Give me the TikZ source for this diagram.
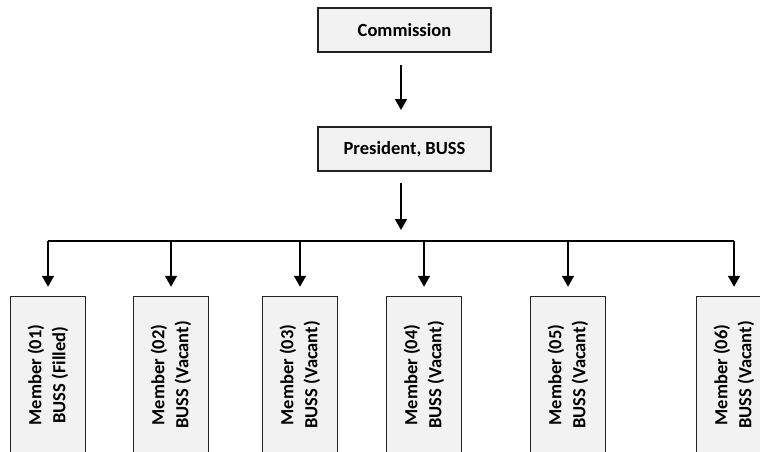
\documentclass[tikz,border=0pt]{standalone}
\usepackage{fontspec}
\setmainfont{Carlito}
\usetikzlibrary{arrows.meta}
\definecolor{boxfill}{HTML}{F2F2F2}
\definecolor{boxline}{HTML}{222222}
\tikzset{
  box/.style={draw=boxline, fill=boxfill, line width=1.5pt, inner sep=0pt,
    font=\fontsize{18.5}{24}\selectfont\bfseries, align=center},
  topbox/.style={box, minimum width=173pt, minimum height=44pt},
  member/.style={box, rotate=90, minimum width=157pt, minimum height=75pt},
  arr/.style={line width=1.7pt, draw=black, -{Triangle[length=11pt,width=12pt]}},
  bus/.style={line width=1.7pt, draw=black}
}
\begin{document}
\begin{tikzpicture}[x=1pt,y=-1pt]
\useasboundingbox (0,0) rectangle (760,452);
\clip (0,0) rectangle (760,452);
\node[topbox] (comm) at (404.5,30) {Commission};
\node[topbox] (pres) at (404.5,149) {President, BUSS};
\node[member] (m1) at (48,375) {Member (01)\\BUSS (Filled)};
\node[member] (m2) at (171,375) {Member (02)\\BUSS (Vacant)};
\node[member] (m3) at (300,375) {Member (03)\\BUSS (Vacant)};
\node[member] (m4) at (424,375) {Member (04)\\BUSS (Vacant)};
\node[member] (m5) at (568,375) {Member (05)\\BUSS (Vacant)};
\node[member] (m6) at (734,375) {Member (06)\\BUSS (Vacant)};
\coordinate (a1s) at (401,65);
\coordinate (a1e) at (401,110);
\coordinate (a2s) at (401,183);
\coordinate (a2e) at (401,230);
\coordinate (busL) at (48,241);
\coordinate (busR) at (734,241);
\draw[arr] (a1s) -- (a1e);
\draw[arr] (a2s) -- (a2e);
\draw[bus] (busL) -- (busR);
\foreach \m in {m1,m2,m3,m4,m5,m6}{
  \draw[arr, shorten >=9pt] (\m.east |- busL) -- (\m.east);
}
\end{tikzpicture}
\end{document}
